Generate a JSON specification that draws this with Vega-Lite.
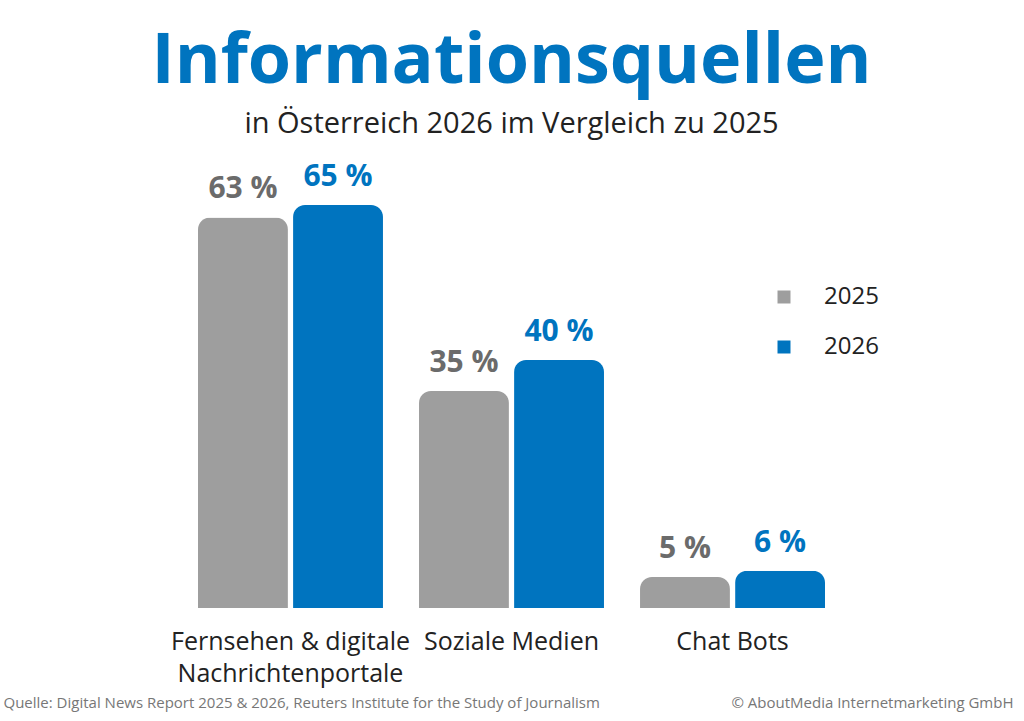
{
  "$schema": "https://vega.github.io/schema/vega-lite/v6.json",
  "width": 627,
  "height": 403,
  "autosize": "none",
  "padding": {"left": 198, "top": 205, "right": 199, "bottom": 113},
  "background": "white",
  "title": {
    "text": "Informationsquellen",
    "subtitle": "in Österreich 2026 im Vergleich zu 2025",
    "anchor": "middle",
    "font": "Open Sans",
    "fontSize": 70,
    "fontWeight": "bold",
    "color": "#0074BF",
    "subtitleFont": "Open Sans",
    "subtitleFontSize": 29,
    "subtitleColor": "#222222",
    "subtitlePadding": 12,
    "offset": 22
  },
  "data": {
    "values": [
      {"Quelle": "Fernsehen & digitale Nachrichtenportale", "Jahr": "2025", "Anteil": 63, "Label": "63 %"},
      {"Quelle": "Fernsehen & digitale Nachrichtenportale", "Jahr": "2026", "Anteil": 65, "Label": "65 %"},
      {"Quelle": "Soziale Medien", "Jahr": "2025", "Anteil": 35, "Label": "35 %"},
      {"Quelle": "Soziale Medien", "Jahr": "2026", "Anteil": 40, "Label": "40 %"},
      {"Quelle": "Chat Bots", "Jahr": "2025", "Anteil": 5, "Label": "5 %"},
      {"Quelle": "Chat Bots", "Jahr": "2026", "Anteil": 6, "Label": "6 %"}
    ]
  },
  "encoding": {
    "x": {
      "field": "Quelle",
      "type": "nominal",
      "sort": null,
      "scale": {"paddingInner": 0.163, "paddingOuter": 0},
      "axis": {
        "title": "Quelle: Digital News Report 2025 & 2026, Reuters Institute for the Study of Journalism",
        "titleFont": "Open Sans",
        "titleFontSize": 15,
        "titleFontWeight": "normal",
        "titleColor": "#777777",
        "titleAnchor": "start",
        "titleAlign": "left",
        "titleBaseline": "alphabetic",
        "titleX": -195,
        "titleY": 99,
        "labelExpr": "datum.value == 'Fernsehen & digitale Nachrichtenportale' ? ['Fernsehen & digitale', 'Nachrichtenportale'] : datum.value",
        "labelAngle": 0,
        "labelLimit": 0,
        "labelFont": "Open Sans",
        "labelFontSize": 25,
        "labelColor": "#222222",
        "labelLineHeight": 32,
        "labelPadding": 21,
        "labelBaseline": "top",
        "domain": false,
        "ticks": false,
        "grid": false
      }
    },
    "xOffset": {
      "field": "Jahr",
      "type": "nominal",
      "scale": {"paddingInner": 0.054, "paddingOuter": 0}
    },
    "y": {
      "field": "Anteil",
      "type": "quantitative",
      "scale": {"domain": [0, 65], "nice": false},
      "axis": {
        "orient": "right",
        "title": "© AboutMedia Internetmarketing GmbH",
        "titleFont": "Open Sans",
        "titleFontSize": 15,
        "titleFontWeight": "normal",
        "titleColor": "#777777",
        "titleAngle": 0,
        "titleAlign": "right",
        "titleBaseline": "alphabetic",
        "titleX": 188,
        "titleY": 502,
        "labels": false,
        "ticks": false,
        "domain": false,
        "grid": false
      }
    }
  },
  "layer": [
    {
      "mark": {"type": "bar", "cornerRadiusTopLeft": 12, "cornerRadiusTopRight": 12},
      "encoding": {
        "color": {
          "field": "Jahr",
          "type": "nominal",
          "scale": {"domain": ["2025", "2026"], "range": ["#9E9E9E", "#0074BF"]},
          "legend": {
            "orient": "none",
            "legendX": 574,
            "legendY": 80,
            "title": null,
            "symbolType": "square",
            "symbolSize": 169,
            "symbolStrokeWidth": 0,
            "symbolOpacity": 1,
            "labelFont": "Open Sans",
            "labelFontSize": 24,
            "labelColor": "#222222",
            "labelOffset": 28,
            "rowPadding": 26
          }
        }
      }
    },
    {
      "mark": {"type": "text", "baseline": "alphabetic", "dy": -19, "font": "Open Sans", "fontSize": 30, "fontWeight": "bold"},
      "encoding": {
        "text": {"field": "Label", "type": "nominal"},
        "color": {
          "field": "Jahr",
          "type": "nominal",
          "scale": {"domain": ["2025", "2026"], "range": ["#6B6B6B", "#0074BF"]},
          "legend": null
        }
      }
    }
  ],
  "resolve": {"scale": {"color": "independent"}},
  "config": {"view": {"stroke": null}}
}
